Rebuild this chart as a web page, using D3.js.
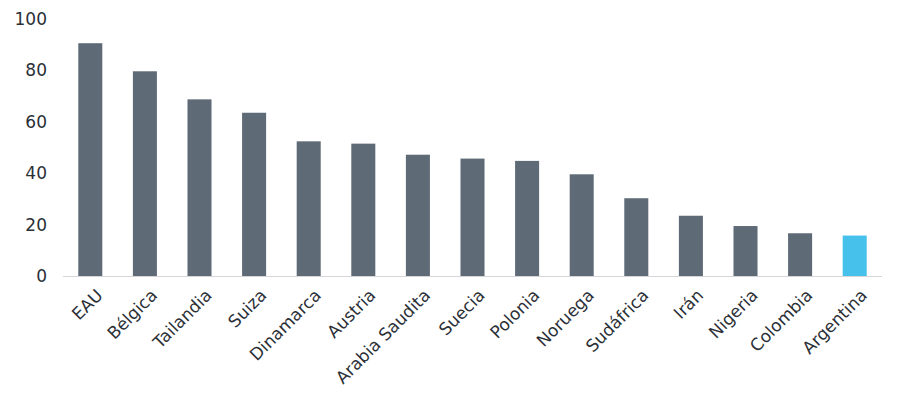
<!DOCTYPE html>
<html>
<head>
<meta charset="utf-8">
<script src="https://cdn.jsdelivr.net/npm/d3@7"></script>
<style>
  body { margin: 0; background: #fff; }
  svg text { font-family: "DejaVu Sans", sans-serif; fill: #2b2f36; }
</style>
</head>
<body>
<svg id="chart" width="900" height="406"></svg>
<script>
var countries = ['EAU', 'Bélgica', 'Tailandia', 'Suiza', 'Dinamarca', 'Austria', 'Arabia Saudita',
    'Suecia', 'Polonia', 'Noruega', 'Sudáfrica', 'Irán', 'Nigeria', 'Colombia', 'Argentina'];
var values = [90.4, 79.5, 68.6, 63.4, 52.3, 51.4, 47.1, 45.6, 44.7, 39.5, 30.2, 23.4, 19.4, 16.6, 15.7];
var highlight = 'Argentina';
var yTicks = [0, 20, 40, 60, 80, 100];

var svg = d3.select('#chart');
var plotLeft = 63, plotRight = 882, plotTop = 18.5, plotBottom = 276;

var x = d3.scaleBand()
    .domain(countries)
    .range([plotLeft, plotRight])
    .paddingInner(0.56)
    .paddingOuter(0.28);
var y = d3.scaleLinear()
    .domain([0, 100])
    .range([plotBottom, plotTop]);

// y labels
svg.append('g')
    .selectAll('text')
    .data(yTicks)
    .enter()
    .append('text')
    .attr('x', 47)
    .attr('y', function (d) { return y(d); })
    .attr('dy', '0.36em')
    .attr('text-anchor', 'end')
    .style('font-size', '17px')
    .text(function (d) { return d; });

// bars
svg.append('g')
    .selectAll('rect')
    .data(countries)
    .enter()
    .append('rect')
    .attr('x', function (d) { return x(d); })
    .attr('y', function (d, i) { return y(values[i]); })
    .attr('width', x.bandwidth())
    .attr('height', function (d, i) { return plotBottom - y(values[i]); })
    .attr('fill', function (d) { return d === highlight ? '#45c1ec' : '#5f6a77'; });

// baseline
svg.append('line')
    .attr('x1', plotLeft).attr('x2', plotRight)
    .attr('y1', plotBottom + 0.5).attr('y2', plotBottom + 0.5)
    .attr('stroke', '#d6d6da')
    .attr('stroke-width', 1.2);

// x labels
svg.append('g')
    .selectAll('text')
    .data(countries)
    .enter()
    .append('text')
    .attr('text-anchor', 'end')
    .attr('transform', function (d) {
        return 'translate(' + (x(d) + x.bandwidth() / 2 + 5) + ',' + (plotBottom + 12) + ') rotate(-45)';
    })
    .attr('dy', '0.7em')
    .style('font-size', '17px')
    .text(function (d) { return d; });
</script>
</body>
</html>
